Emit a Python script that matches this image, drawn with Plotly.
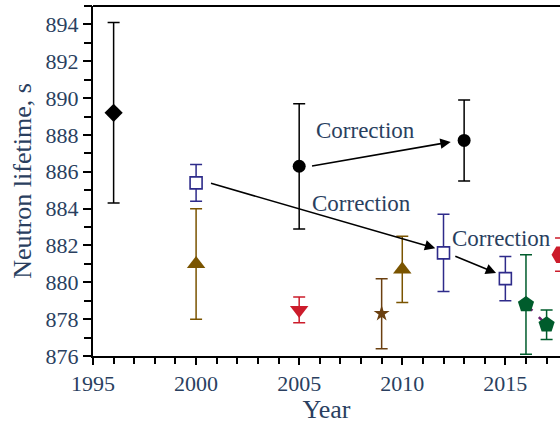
import plotly.graph_objects as go

# ---- data ----
years = [1996, 2000, 2000, 2005, 2005, 2009, 2010, 2012, 2013, 2015, 2016, 2017, 2017.7]
lifetimes = [889.2, 885.4, 881.0, 886.3, 878.5, 878.3, 880.7, 881.6, 887.7, 880.2, 878.8, 877.7, 881.5]
err_plus = [4.9, 1.0, 3.0, 3.4, 0.7, 1.9, 1.8, 2.1, 2.2, 1.2, 2.7, 0.8, 0.9]
err_minus = [4.9, 1.0, 3.0, 3.4, 0.7, 1.9, 1.8, 2.1, 2.2, 1.2, 2.7, 0.8, 0.9]
symbols = ["diamond", "square-open", "triangle-up", "circle", "triangle-down", "star",
           "triangle-up", "square-open", "circle", "square-open", "pentagon", "pentagon", "hexagon2"]
colors = ["#000000", "#2e2b8a", "#7a5400", "#000000", "#cc1c2b", "#6b4010",
          "#7a5400", "#2e2b8a", "#000000", "#2e2b8a", "#005c2c", "#005c2c", "#cc1c2b"]
sizes = [14, 12, 16, 13, 16, 12, 16, 12, 13, 12, 17, 17, 19]

# corrections (from -> to) and labels
arrow_from_x = [2005.55, 2000.65, 2012.5]
arrow_from_y = [886.3, 885.4, 881.45]
arrow_to_x = [2012.35, 2011.6, 2014.55]
arrow_to_y = [887.62, 881.85, 880.5]
label_x = [2008.2, 2008.0, 2014.8]
label_y = [888.25, 884.3, 882.4]
label_text = ["Correction", "Correction", "Correction"]

# linked pair
link_x = [2016, 2017]
link_y = [878.8, 877.7]

x_ticks = [1995, 2000, 2005, 2010, 2015]
y_ticks = [876, 878, 880, 882, 884, 886, 888, 890, 892, 894]
x_range = [1995, 2017.65]
y_range = [876, 895]

SERIF = "Times New Roman"

fig = go.Figure()

fig.add_trace(go.Scatter(x=link_x, y=link_y, mode="lines",
                         line=dict(color="#6a1f6e", width=2.5, dash="dash"),
                         showlegend=False, hoverinfo="skip"))

for i in range(len(years)):
    open_sym = symbols[i].endswith("-open")
    sym = symbols[i].replace("-open", "")
    fig.add_trace(go.Scatter(
        x=[years[i]], y=[lifetimes[i]], mode="markers",
        marker=dict(symbol=sym, size=sizes[i], color="white" if open_sym else colors[i],
                    line=dict(color=colors[i], width=1.6 if open_sym else 0)),
        error_y=dict(type="data", symmetric=False, array=[err_plus[i]], arrayminus=[err_minus[i]],
                     color=colors[i], thickness=1.5, width=6),
        showlegend=False))

# empty trace on overlay axes used only for the 1-unit ticks
fig.add_trace(go.Scatter(x=[], y=[], xaxis="x2", yaxis="y2", showlegend=False, hoverinfo="skip"))

for i in range(3):
    fig.add_annotation(x=arrow_to_x[i], y=arrow_to_y[i], ax=arrow_from_x[i], ay=arrow_from_y[i],
                       xref="x", yref="y", axref="x", ayref="y", text="",
                       showarrow=True, arrowhead=2, arrowsize=1.3, arrowwidth=1.6, arrowcolor="black",
                       standoff=0, startstandoff=0)
    fig.add_annotation(x=label_x[i], y=label_y[i], xref="x", yref="y", text=label_text[i],
                       showarrow=False, font=dict(family=SERIF, size=23))

fig.add_shape(type="line", xref="paper", yref="paper", x0=0, x1=1, y0=1, y1=1,
              line=dict(color="black", width=2))

fig.update_layout(
    width=560, height=424,
    margin=dict(l=93, r=0, t=6, b=68),
    plot_bgcolor="white", paper_bgcolor="white",
    font=dict(family=SERIF, size=22),
    xaxis=dict(range=x_range, tickvals=x_ticks, ticks="outside", ticklen=7, tickwidth=1.6,
               tickcolor="black", showline=True, linecolor="black", linewidth=2, showgrid=False,
               zeroline=False, title=dict(text="Year", standoff=8)),
    yaxis=dict(range=y_range, tickvals=y_ticks, ticks="outside", ticklen=8, tickwidth=1.6,
               tickcolor="black", showline=True, linecolor="black", linewidth=2, showgrid=False,
               zeroline=False, title=dict(text="Neutron lifetime, s", standoff=6)),
    xaxis2=dict(overlaying="x", anchor="y2", side="bottom", range=x_range, tick0=1995, dtick=1,
                ticks="outside", ticklen=7, tickwidth=1.6, tickcolor="black", showticklabels=False,
                showline=False, showgrid=False, zeroline=False),
    yaxis2=dict(overlaying="y", anchor="x2", side="left", range=y_range, tick0=876, dtick=1,
                ticks="outside", ticklen=8, tickwidth=1.6, tickcolor="black", showticklabels=False,
                showline=False, showgrid=False, zeroline=False),
)

fig.write_html("out.html")
